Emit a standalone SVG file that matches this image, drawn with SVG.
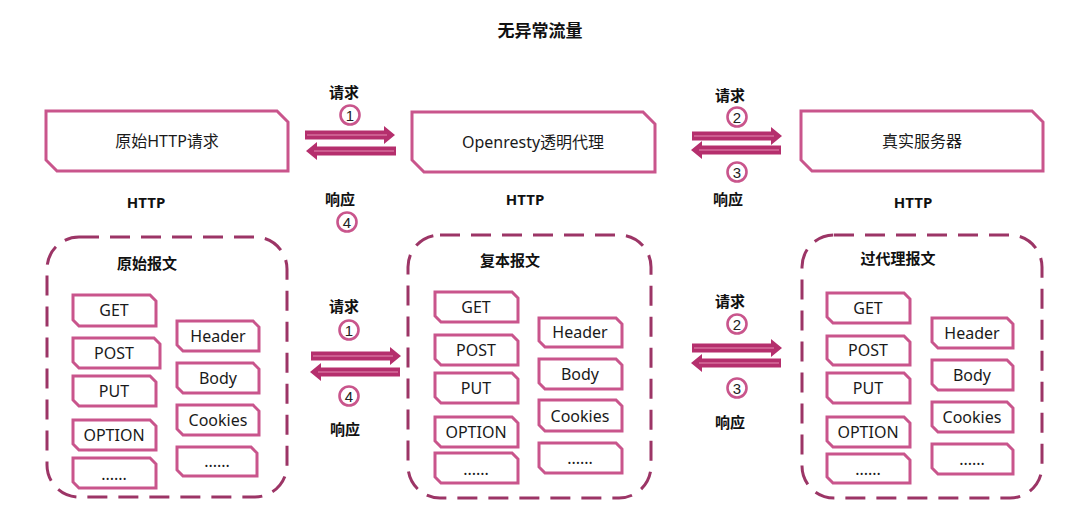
<svg xmlns="http://www.w3.org/2000/svg" xmlns:xlink="http://www.w3.org/1999/xlink" width="1080" height="528" viewBox="0 0 1080 528">
<style>
  text { font-family: "Noto Sans", "Noto Sans CJK SC", sans-serif; fill: #1a1a1a; text-anchor: middle; }
  .b { font-weight: bold; font-size: 15px; fill: #111; }
  .title { font-weight: bold; font-size: 17px; fill: #111; }
  .lbl { font-size: 16px; }
  .item { font-size: 16px; }
  .num { font-size: 15px; font-family: "Liberation Sans", sans-serif; fill: #222; }
  .big { fill: #fff; stroke: #c9558c; stroke-width: 3; stroke-linejoin: miter; }
  .sm { fill: #fff; stroke: #c9558c; stroke-width: 3; }
  .cont { fill: none; stroke: #9c3566; stroke-width: 3; stroke-dasharray: 20 11; }
  .circ { fill: #fff; stroke: #c9558c; stroke-width: 2.6; }
  .arr { fill: #b52f6d; }
  .arrl { stroke: #e58bb3; stroke-width: 1.2; fill: none; }
</style>
<defs>
  <g id="arrow">
    <path class="arr" d="M0,-4.5 H79 V-9 L90,0 L79,9 V4.5 H0 Z"/>
    <path class="arrl" d="M2,0 H82"/>
  </g>
</defs>
<rect width="1080" height="528" fill="#ffffff"/>
<text class="title" x="540" y="37">无异常流量</text>

<g id="node-orig-request">
  <path class="big" d="M46,111 H277 L288,122 V171 H57 L46,160 Z"/>
  <text class="lbl" x="167" y="147">原始HTTP请求</text>
  <text class="b" x="146" y="208">HTTP</text>
</g>
<g id="node-openresty">
  <path class="big" d="M412,112 H643 L655,124 V172 H424 L412,160 Z"/>
  <text class="lbl" x="533" y="148">Openresty透明代理</text>
  <text class="b" x="525" y="205">HTTP</text>
</g>
<g id="node-real-server">
  <path class="big" d="M801,111 H1032 L1043,122 V171 H812 L801,160 Z"/>
  <text class="lbl" x="922" y="147">真实服务器</text>
  <text class="b" x="913" y="208">HTTP</text>
</g>

<g id="node-orig-msg">
  <rect class="cont" x="47" y="237" width="240" height="260" rx="32"/>
  <text class="b" x="147" y="269">原始报文</text>
  <path class="sm" d="M73,295 H150 L156,301 V326 H79 L73,320 Z"/><text class="item" x="114" y="316">GET</text>
  <path class="sm" d="M73,338 H154 L160,344 V368 H79 L73,362 Z"/><text class="item" x="114" y="359">POST</text>
  <path class="sm" d="M73,376 H150 L156,382 V406 H79 L73,400 Z"/><text class="item" x="114" y="397">PUT</text>
  <path class="sm" d="M73,420 H150 L156,426 V450 H79 L73,444 Z"/><text class="item" x="114" y="441">OPTION</text>
  <path class="sm" d="M73,458 H150 L156,464 V488 H79 L73,482 Z"/><text class="item" x="114" y="480">......</text>
  <path class="sm" d="M177,321 H253 L259,327 V351 H183 L177,345 Z"/><text class="item" x="218" y="342">Header</text>
  <path class="sm" d="M177,363 H253 L259,369 V393 H183 L177,387 Z"/><text class="item" x="218" y="384">Body</text>
  <path class="sm" d="M177,405 H253 L259,411 V435 H183 L177,429 Z"/><text class="item" x="218" y="426">Cookies</text>
  <path class="sm" d="M177,447 H251 L257,453 V476 H183 L177,470 Z"/><text class="item" x="217" y="467">......</text>
</g>

<g id="node-copy-msg">
  <rect class="cont" x="408" y="235" width="243" height="263" rx="32"/>
  <text class="b" x="510" y="266">复本报文</text>
  <path class="sm" d="M435,292 H512 L518,298 V322 H441 L435,316 Z"/><text class="item" x="476" y="313">GET</text>
  <path class="sm" d="M435,335 H512 L518,341 V365 H441 L435,359 Z"/><text class="item" x="476" y="356">POST</text>
  <path class="sm" d="M435,373 H512 L518,379 V403 H441 L435,397 Z"/><text class="item" x="476" y="394">PUT</text>
  <path class="sm" d="M435,417 H512 L518,423 V447 H441 L435,441 Z"/><text class="item" x="476" y="438">OPTION</text>
  <path class="sm" d="M435,453 H512 L518,459 V483 H441 L435,477 Z"/><text class="item" x="476" y="475">......</text>
  <path class="sm" d="M539,318 H616 L622,324 V347 H545 L539,341 Z"/><text class="item" x="580" y="338">Header</text>
  <path class="sm" d="M539,359 H616 L622,365 V389 H545 L539,383 Z"/><text class="item" x="580" y="380">Body</text>
  <path class="sm" d="M539,400 H616 L622,406 V431 H545 L539,425 Z"/><text class="item" x="580" y="422">Cookies</text>
  <path class="sm" d="M539,443 H616 L622,449 V473 H545 L539,467 Z"/><text class="item" x="580" y="464">......</text>
</g>

<g id="node-proxy-msg">
  <rect class="cont" x="802" y="235" width="240" height="263" rx="32"/>
  <text class="b" x="898" y="264">过代理报文</text>
  <path class="sm" d="M827,293 H904 L910,299 V323 H833 L827,317 Z"/><text class="item" x="868" y="314">GET</text>
  <path class="sm" d="M827,336 H904 L910,342 V365 H833 L827,359 Z"/><text class="item" x="868" y="356">POST</text>
  <path class="sm" d="M827,373 H904 L910,379 V403 H833 L827,397 Z"/><text class="item" x="868" y="394">PUT</text>
  <path class="sm" d="M827,417 H904 L910,423 V447 H833 L827,441 Z"/><text class="item" x="868" y="438">OPTION</text>
  <path class="sm" d="M827,454 H904 L910,460 V483 H833 L827,477 Z"/><text class="item" x="868" y="475">......</text>
  <path class="sm" d="M932,318 H1007 L1013,324 V348 H938 L932,342 Z"/><text class="item" x="972" y="339">Header</text>
  <path class="sm" d="M932,360 H1007 L1013,366 V390 H938 L932,384 Z"/><text class="item" x="972" y="381">Body</text>
  <path class="sm" d="M932,402 H1007 L1013,408 V432 H938 L932,426 Z"/><text class="item" x="972" y="423">Cookies</text>
  <path class="sm" d="M932,444 H1007 L1013,450 V474 H938 L932,468 Z"/><text class="item" x="972" y="465">......</text>
</g>

<g id="connectors">
  <!-- top pair 1 -->
  <text class="b" x="344" y="98">请求</text>
  <circle class="circ" cx="350" cy="115" r="9.5"/><text class="num" x="350" y="120.5">1</text>
  <use xlink:href="#arrow" transform="translate(305,135)"/>
  <use xlink:href="#arrow" transform="translate(396,151) scale(-1,1)"/>
  <text class="b" x="340" y="205">响应</text>
  <circle class="circ" cx="347" cy="222" r="9.5"/><text class="num" x="347" y="227.5">4</text>

  <!-- top pair 2 -->
  <text class="b" x="730" y="101">请求</text>
  <circle class="circ" cx="737" cy="117" r="9.5"/><text class="num" x="737" y="122.5">2</text>
  <use xlink:href="#arrow" transform="translate(692,136)"/>
  <use xlink:href="#arrow" transform="translate(781,150) scale(-1,1)"/>
  <circle class="circ" cx="737" cy="172" r="9.5"/><text class="num" x="737" y="177.5">3</text>
  <text class="b" x="728" y="205">响应</text>

  <!-- bottom pair 1 -->
  <text class="b" x="344" y="312">请求</text>
  <circle class="circ" cx="349" cy="330" r="9.5"/><text class="num" x="349" y="335.5">1</text>
  <use xlink:href="#arrow" transform="translate(311,356)"/>
  <use xlink:href="#arrow" transform="translate(400,372) scale(-1,1)"/>
  <circle class="circ" cx="349" cy="396" r="9.5"/><text class="num" x="349" y="401.5">4</text>
  <text class="b" x="345" y="435">响应</text>

  <!-- bottom pair 2 -->
  <text class="b" x="730" y="307">请求</text>
  <circle class="circ" cx="737" cy="324" r="9.5"/><text class="num" x="737" y="329.5">2</text>
  <use xlink:href="#arrow" transform="translate(692,348)"/>
  <use xlink:href="#arrow" transform="translate(781,363) scale(-1,1)"/>
  <circle class="circ" cx="737" cy="388" r="9.5"/><text class="num" x="737" y="393.5">3</text>
  <text class="b" x="730" y="428">响应</text>
</g>
</svg>
